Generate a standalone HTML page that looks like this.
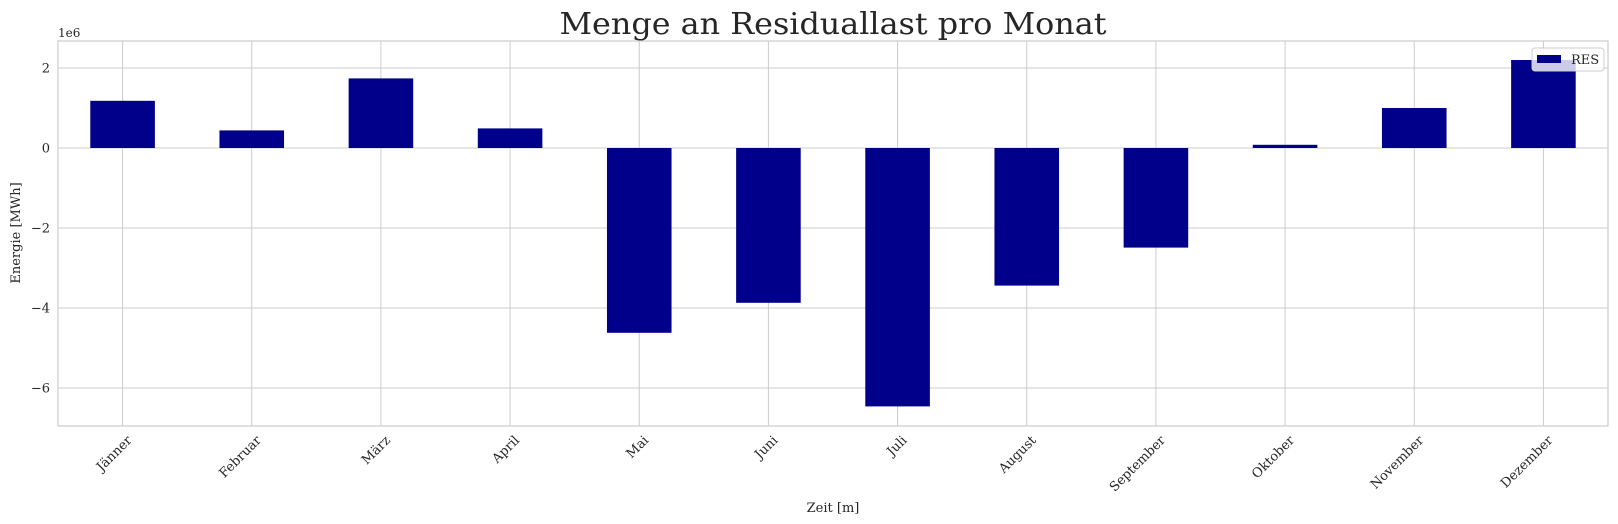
<!DOCTYPE html>
<html><head><meta charset="utf-8"><style>
html,body{margin:0;padding:0;background:#fff}
svg{display:block;font-family:"DejaVu Serif","Liberation Serif",serif}
</style></head><body>
<svg id="chart" width="1618" height="524" viewBox="0 0 1618 524">
<text x="833" y="34" text-anchor="middle" font-size="30" fill="#262626" textLength="547" lengthAdjust="spacingAndGlyphs">Menge an Residuallast pro Monat</text>
<g id="grid"></g><g id="bars"></g><g id="axes"></g>
</svg>
<script>
const categories=["Jänner","Februar","März","April","Mai","Juni","Juli","August","September","Oktober","November","Dezember"];
const resValues=[1.18,0.44,1.74,0.49,-4.62,-3.87,-6.46,-3.44,-2.49,0.08,1.0,2.2];
const yTicks=[2,0,-2,-4,-6];
const yTickLabels=["2","0","\u22122","\u22124","\u22126"];
const NS="http://www.w3.org/2000/svg";
const L=58,R=1608,T=41,B=426;
const yMin=-6.95,yMax=2.675;
function y(v){return B-(v-yMin)/(yMax-yMin)*(B-T);}
const step=(R-L)/categories.length;
function x(i){return L+step*(i+0.5);}
function mk(tag,attrs,parent){const e=document.createElementNS(NS,tag);for(const k in attrs)e.setAttribute(k,attrs[k]);parent.appendChild(e);return e;}
const grid=document.getElementById('grid'),bars=document.getElementById('bars'),axes=document.getElementById('axes');
yTicks.forEach((t,i)=>{
 const l=mk('line',{x1:L,x2:R,y1:y(t),y2:y(t),stroke:'#cccccc','stroke-width':1},grid);
 
 
 const tx=mk('text',{x:L-8,y:y(t)+4.5,'text-anchor':'end','font-size':13,fill:'#262626'},axes);
 tx.textContent=yTickLabels[i];
 
 
});
categories.forEach((c,i)=>{
 const l=mk('line',{x1:x(i),x2:x(i),y1:T,y2:B,stroke:'#cccccc','stroke-width':1},grid);
 
 
 const v=resValues[i],w=step*0.5;
 const r=mk('rect',{x:x(i)-w/2,y:Math.min(y(v),y(0)),width:w,height:Math.abs(y(v)-y(0)),fill:'#00008b'},bars);
 
 
 const ax=x(i)+10,ay=B+15;
 const tx=mk('text',{x:ax,y:ay,'text-anchor':'end','font-size':13,fill:'#262626',transform:`rotate(-45 ${ax} ${ay})`},axes);
 tx.textContent=c;
 
 
});
const fr=mk('rect',{x:L,y:T,width:R-L,height:B-T,fill:'none',stroke:'#cccccc','stroke-width':1.2},axes);


const off=mk('text',{x:L,y:T-4,'font-size':12,fill:'#262626'},axes);off.textContent='1e6';


const xl=mk('text',{x:(L+R)/2,y:512,'text-anchor':'middle','font-size':13,fill:'#262626'},axes);xl.textContent='Zeit [m]';


const yl=mk('text',{x:20,y:233,'text-anchor':'middle','font-size':13,fill:'#262626',transform:'rotate(-90 20 233)'},axes);yl.textContent='Energie [MWh]';


const lg=mk('g',{},axes);


mk('rect',{x:1532,y:48,width:72,height:23,rx:3,fill:'rgba(255,255,255,0.8)',stroke:'#cccccc'},lg);
const lp=mk('rect',{x:1537,y:55,width:24,height:8,fill:'#00008b'},lg);


const lt=mk('text',{x:1571,y:64,'font-size':13,fill:'#262626'},lg);lt.textContent='RES';


</script>
</body></html>
